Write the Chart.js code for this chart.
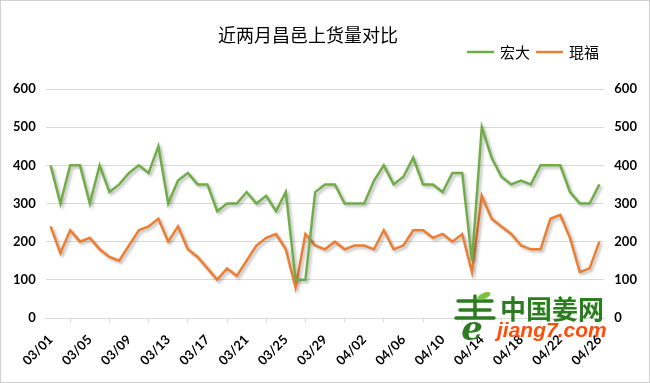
<!DOCTYPE html>
<html>
<head>
<meta charset="utf-8">
<script src="https://cdn.jsdelivr.net/npm/chart.js@4.4.1/dist/chart.umd.min.js"></script>
<style>
  html, body { margin: 0; padding: 0; background: #fff; }
  #wrap { width: 650px; height: 383px; position: relative; }
</style>
</head>
<body>
<div id="wrap"><canvas id="c" width="650" height="383"></canvas></div>
<script>
const categories = [
  "03/01","03/02","03/03","03/04","03/05","03/06","03/07","03/08","03/09","03/10",
  "03/11","03/12","03/13","03/14","03/15","03/16","03/17","03/18","03/19","03/20",
  "03/21","03/22","03/23","03/24","03/25","03/26","03/27","03/28","03/29","03/30",
  "03/31","04/01","04/02","04/03","04/04","04/05","04/06","04/07","04/08","04/09",
  "04/10","04/11","04/12","04/13","04/14","04/15","04/16","04/17","04/18","04/19",
  "04/20","04/21","04/22","04/23","04/24","04/25","04/26"
];
const hongda = [
  400,300,400,400,300,400,330,350,380,400,
  380,450,300,360,380,350,350,280,300,300,
  330,300,320,280,330,100,100,330,350,350,
  300,300,300,360,400,350,370,420,350,350,
  330,380,380,150,500,420,370,350,360,350,
  400,400,400,330,300,300,350
];
const kunfu = [
  240,170,230,200,210,180,160,150,190,230,
  240,260,200,240,180,160,130,100,130,110,
  150,190,210,220,180,80,220,190,180,200,
  180,190,190,180,230,180,190,230,230,210,
  220,200,220,120,320,260,240,220,190,180,
  180,260,270,210,120,130,200
];
const yTicks = [0,100,200,300,400,500,600];
const seriesNames = ["宏大","琨福"];
const titleText = "近两月昌邑上货量对比";

const GREEN = "#70AD47", ORANGE = "#ED7D31", GRID = "#d9d9d9";
const tickFont = { family: "Lato", weight: "bold", size: 13 };

const shadowPlugin = {
  id: "shadow",
  beforeDatasetsDraw(chart) {
    const ctx = chart.ctx;
    ctx.save();
    ctx.shadowColor = "rgba(0,0,0,0.28)";
    ctx.shadowBlur = 3;
    ctx.shadowOffsetX = 2;
    ctx.shadowOffsetY = 2;
  },
  afterDatasetsDraw(chart) { chart.ctx.restore(); }
};

const decorPlugin = {
  id: "decor",
  beforeDraw(chart) {
    const ctx = chart.ctx;
    ctx.save();
    ctx.fillStyle = "#fff";
    ctx.fillRect(0, 0, chart.width, chart.height);
    ctx.restore();
  },
  afterDraw(chart) {
    const ctx = chart.ctx;
    ctx.save();
    // border
    ctx.strokeStyle = "#d0d0d0";
    ctx.lineWidth = 1;
    ctx.strokeRect(0.5, 0.5, chart.width - 1, chart.height - 1);
    // title
    ctx.fillStyle = "#000";
    ctx.font = '18px "Noto Sans CJK SC"';
    ctx.textAlign = "center";
    ctx.textBaseline = "middle";
    ctx.fillText(titleText, 308, 35);
    // legend
    ctx.font = '15px "Noto Sans CJK SC"';
    ctx.textAlign = "left";
    const items = [[GREEN, 467, seriesNames[0]], [ORANGE, 536, seriesNames[1]]];
    for (const [col, x, name] of items) {
      ctx.strokeStyle = col; ctx.lineWidth = 2.5;
      ctx.beginPath(); ctx.moveTo(x, 52); ctx.lineTo(x + 27, 52); ctx.stroke();
      ctx.fillStyle = "#000";
      ctx.fillText(name, x + 33, 52);
    }
    // watermark logo
    const g = "#2b7d1f";
    ctx.strokeStyle = g; ctx.fillStyle = g; ctx.lineWidth = 3.5; ctx.lineCap = "round";
    ctx.beginPath();
    ctx.moveTo(458, 301); ctx.lineTo(492, 301);
    ctx.moveTo(460, 310); ctx.lineTo(490, 310);
    ctx.moveTo(456, 318); ctx.lineTo(494, 318);
    ctx.moveTo(475, 296); ctx.lineTo(475, 318);
    ctx.stroke();
    ctx.fillStyle = "#7cc242";
    ctx.beginPath(); ctx.ellipse(484, 296, 7, 3, -0.4, 0, Math.PI * 2); ctx.fill();
    ctx.fillStyle = g;
    ctx.font = 'italic bold 34px "DejaVu Serif"';
    ctx.textAlign = "center"; ctx.textBaseline = "alphabetic";
    ctx.fillText("e", 472, 340);
    ctx.font = 'bold 26px "Noto Sans CJK SC"';
    ctx.textAlign = "left"; ctx.textBaseline = "middle";
    ctx.fillText("中国姜网", 500, 309);
    ctx.fillStyle = "#ff4d0a";
    ctx.font = 'italic bold 21px "Liberation Sans"';
    ctx.fillText("jiang7.com", 497, 331);
    ctx.restore();
  }
};

new Chart(document.getElementById("c"), {
  type: "line",
  data: {
    labels: categories,
    datasets: [
      { label: seriesNames[0], data: hongda, borderColor: GREEN, backgroundColor: GREEN,
        borderWidth: 2.5, pointRadius: 0, tension: 0, yAxisID: "y" },
      { label: seriesNames[1], data: kunfu, borderColor: ORANGE, backgroundColor: ORANGE,
        borderWidth: 2.5, pointRadius: 0, tension: 0, yAxisID: "y" }
    ]
  },
  options: {
    responsive: false,
    animation: false,
    devicePixelRatio: 1,
    layout: { padding: { top: 89, left: 0, right: 0, bottom: 0 } },
    plugins: { legend: { display: false }, title: { display: false }, tooltip: { enabled: false } },
    scales: {
      x: {
        offset: true,
        grid: { display: true, offset: true, drawOnChartArea: false, drawTicks: true, tickLength: 5, color: GRID },
        border: { display: true, color: GRID },
        ticks: {
          autoSkip: false, maxRotation: 45, minRotation: 45, padding: 9,
          color: "#000", font: tickFont,
          callback(v, i) { return i % 4 === 0 ? categories[i] : null; }
        },
        afterFit(s) { s.height = 65; }
      },
      y: {
        position: "left", min: 0, max: 600,
        afterBuildTicks(s) { s.ticks = yTicks.map(v => ({ value: v })); },
        grid: { color: GRID, drawTicks: false },
        border: { display: false },
        ticks: { padding: 10, color: "#000", font: tickFont },
        afterFit(s) { s.width = 45.7; }
      },
      y2: {
        position: "right", min: 0, max: 600,
        afterBuildTicks(s) { s.ticks = yTicks.map(v => ({ value: v })); },
        grid: { display: false, drawTicks: false },
        border: { display: false },
        ticks: { padding: 10, color: "#000", font: tickFont },
        afterFit(s) { s.width = 45.7; }
      }
    }
  },
  plugins: [decorPlugin, shadowPlugin]
});
</script>
</body>
</html>
